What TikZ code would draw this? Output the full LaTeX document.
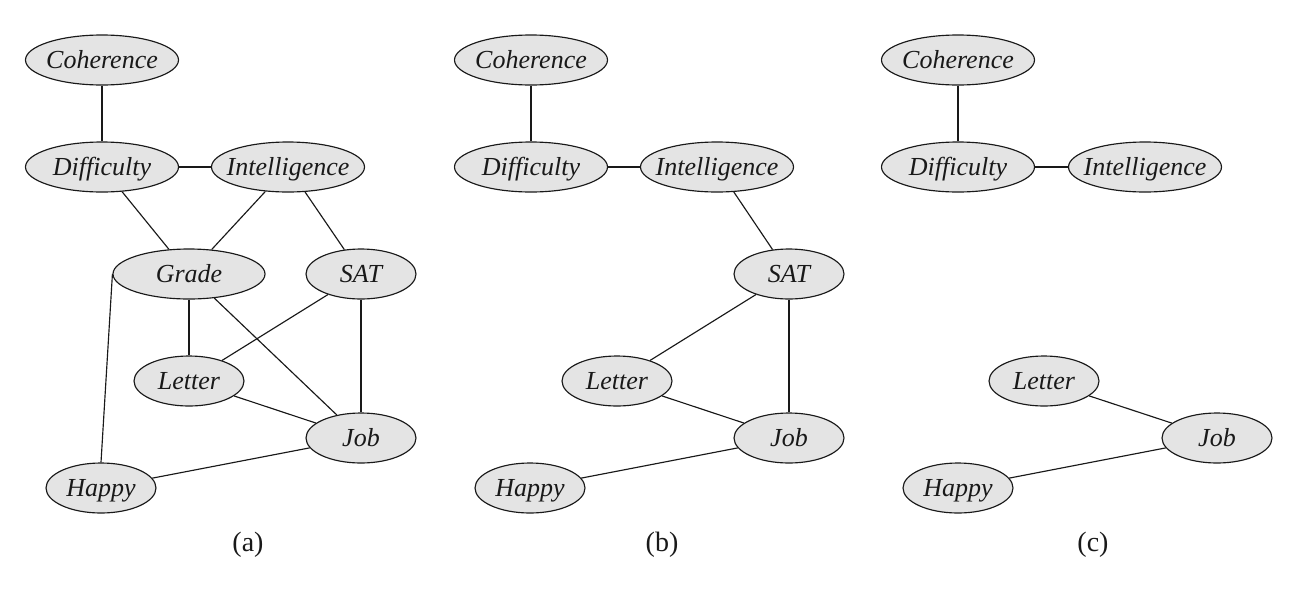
\documentclass[tikz,border=0pt]{standalone}
\usepackage{fontspec}
\setmainfont{Liberation Serif}
\usetikzlibrary{shapes.geometric}
\definecolor{nodefill}{RGB}{228,228,228}
\definecolor{inkc}{RGB}{25,25,25}
\begin{document}
\begin{tikzpicture}[x=1pt,y=-1pt,
  var/.style={ellipse, draw=inkc, line width=1.15pt, fill=nodefill, inner sep=0pt,
    minimum height=50pt, text height=16.8pt, text depth=0pt, text=inkc,
    font=\fontsize{26}{30}\itshape\selectfont},
  wide/.style={var, minimum width=153pt},
  narrow/.style={var, minimum width=110pt},
  edge/.style={line width=1.15pt, draw=inkc},
  panellabel/.style={inner sep=0pt, text=inkc, font=\fontsize{28}{32}\selectfont}]
\useasboundingbox (0,0) rectangle (1298,592);
% panel (a)
\node[wide]   (Ca) at (102,60)  {\makebox[0pt]{Coherence}};
\node[wide]   (Da) at (102,167) {\makebox[0pt]{Difficulty}};
\node[wide]   (Ia) at (288,167) {\makebox[0pt]{Intelligence}};
\node[wide, minimum width=152pt] (Ga) at (189,274) {\makebox[0pt]{Grade}};
\node[narrow] (Sa) at (361,274) {\makebox[0pt]{SAT}};
\node[narrow] (La) at (189,381) {\makebox[0pt]{Letter}};
\node[narrow] (Ja) at (361,438) {\makebox[0pt]{Job}};
\node[narrow] (Ha) at (101,488) {\makebox[0pt]{Happy}};
\node[panellabel] (capa) at (248,545) {(a)};
\draw[edge] (Ca) -- (Da);
\draw[edge] (Da) -- (Ia);
\draw[edge] (Da) -- (Ga);
\draw[edge] (Ia) -- (Ga);
\draw[edge] (Ia) -- (Sa);
\draw[edge] (Ga) -- (La);
\draw[edge] (Ga) -- (Ja);
\draw[edge] (Ga.west) -- (Ha.north);
\draw[edge] (Sa) -- (La);
\draw[edge] (Sa) -- (Ja);
\draw[edge] (La) -- (Ja);
\draw[edge] (Ha) -- (Ja);
% panel (b)
\node[wide]   (Cb) at (531,60)  {\makebox[0pt]{Coherence}};
\node[wide]   (Db) at (531,167) {\makebox[0pt]{Difficulty}};
\node[wide]   (Ib) at (717,167) {\makebox[0pt]{Intelligence}};
\node[narrow] (Sb) at (789,274) {\makebox[0pt]{SAT}};
\node[narrow] (Lb) at (617,381) {\makebox[0pt]{Letter}};
\node[narrow] (Jb) at (789,438) {\makebox[0pt]{Job}};
\node[narrow] (Hb) at (530,488) {\makebox[0pt]{Happy}};
\node[panellabel] (capb) at (662,545) {(b)};
\draw[edge] (Cb) -- (Db);
\draw[edge] (Db) -- (Ib);
\draw[edge] (Ib) -- (Sb);
\draw[edge] (Sb) -- (Lb);
\draw[edge] (Sb) -- (Jb);
\draw[edge] (Lb) -- (Jb);
\draw[edge] (Hb) -- (Jb);
% panel (c)
\node[wide]   (Cc) at (958,60)  {\makebox[0pt]{Coherence}};
\node[wide]   (Dc) at (958,167) {\makebox[0pt]{Difficulty}};
\node[wide]   (Ic) at (1145,167) {\makebox[0pt]{Intelligence}};
\node[narrow] (Lc) at (1044,381) {\makebox[0pt]{Letter}};
\node[narrow] (Jc) at (1217,438) {\makebox[0pt]{Job}};
\node[narrow] (Hc) at (958,488) {\makebox[0pt]{Happy}};
\node[panellabel] (capc) at (1093,545) {(c)};
\draw[edge] (Cc) -- (Dc);
\draw[edge] (Dc) -- (Ic);
\draw[edge] (Lc) -- (Jc);
\draw[edge] (Hc) -- (Jc);
\end{tikzpicture}
\end{document}
